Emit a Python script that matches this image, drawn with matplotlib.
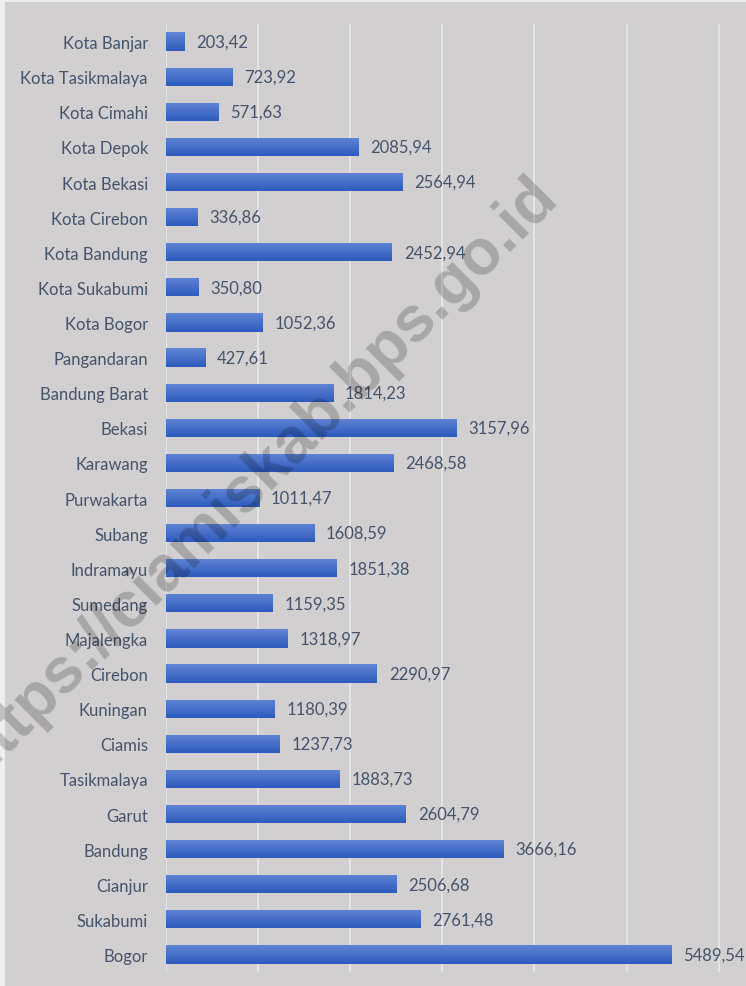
import numpy as np
import matplotlib.pyplot as plt
from matplotlib.patches import Rectangle
from matplotlib.colors import LinearSegmentedColormap


# DATA (top to bottom, as in the reference)

regions = ["Kota Banjar", "Kota Tasikmalaya", "Kota Cimahi", "Kota Depok",
           "Kota Bekasi", "Kota Cirebon", "Kota Bandung", "Kota Sukabumi",
           "Kota Bogor", "Pangandaran", "Bandung Barat", "Bekasi", "Karawang",
           "Purwakarta", "Subang", "Indramayu", "Sumedang", "Majalengka",
           "Cirebon", "Kuningan", "Ciamis", "Tasikmalaya", "Garut", "Bandung",
           "Cianjur", "Sukabumi", "Bogor"]
values = [203.42, 723.92, 571.63, 2085.94, 2564.94, 336.86, 2452.94, 350.80,
          1052.36, 427.61, 1814.23, 3157.96, 2468.58, 1011.47, 1608.59,
          1851.38, 1159.35, 1318.97, 2290.97, 1180.39, 1237.73, 1883.73,
          2604.79, 3666.16, 2506.68, 2761.48, 5489.54]
gridlines = [0, 1000, 2000, 3000, 4000, 5000, 6000]

W, H = 746, 987
text_col = "#44546a"
bg = "#d1cfd0"

plt.rcParams['font.family'] = ['Lato', 'DejaVu Sans']

fig = plt.figure(figsize=(W / 100, H / 100), dpi=100)
fig.patch.set_facecolor("#eceef0")
fig.patches.append(Rectangle((5 / W, 0), 1, 1 - 3 / H, transform=fig.transFigure,
                             facecolor=bg, edgecolor="none", zorder=-10))

ax = fig.add_axes([166 / W, 1 - 973 / H, 1 - 166 / W, (973 - 25) / H])
ax.set_facecolor("none")
ax.set_xlim(0, 580 / 92.1 * 1000)
ax.set_ylim(len(regions) - 0.5, -0.5)

for g in gridlines:
    ax.axvline(g, color="#e4e4e6", lw=1.5, zorder=1)

y = np.arange(len(regions))
bars = ax.barh(y, values, height=0.52, color="#3f69c8", zorder=2)

# vertical gradient on each bar
grad = np.linspace(0, 1, 64).reshape(-1, 1)
cmap = LinearSegmentedColormap.from_list("bar", ["#6185d5", "#2d5bbd"])
for b in bars:
    x0, y0, w, h = b.get_x(), b.get_y(), b.get_width(), b.get_height()
    im = ax.imshow(grad, cmap=cmap, aspect="auto", zorder=3,
                   extent=(x0, x0 + w, y0, y0 + h), origin="lower")
    im.set_clip_path(b)

for yi, v in zip(y, values):
    ax.annotate(f"{v:.2f}".replace(".", ","), (v, yi), xytext=(8.5, 0),
                textcoords="offset points", va="center", ha="left",
                fontsize=12, color=text_col, zorder=4)

ax.set_yticks(y)
ax.set_yticklabels(regions, fontsize=12, color=text_col)
ax.tick_params(axis="y", length=0, pad=13)
ax.set_xticks([])
for s in ax.spines.values():
    s.set_visible(False)

# watermark
fig.text(256 / W, 1 - 478 / H, "https://ciamiskab.bps.go.id", rotation=45,
         rotation_mode="anchor", ha="center", va="center", fontsize=46,
         fontweight="bold", family="Liberation Sans", color="black",
         alpha=0.2, zorder=10)

plt.savefig("out.png", dpi=100, facecolor=fig.get_facecolor())
